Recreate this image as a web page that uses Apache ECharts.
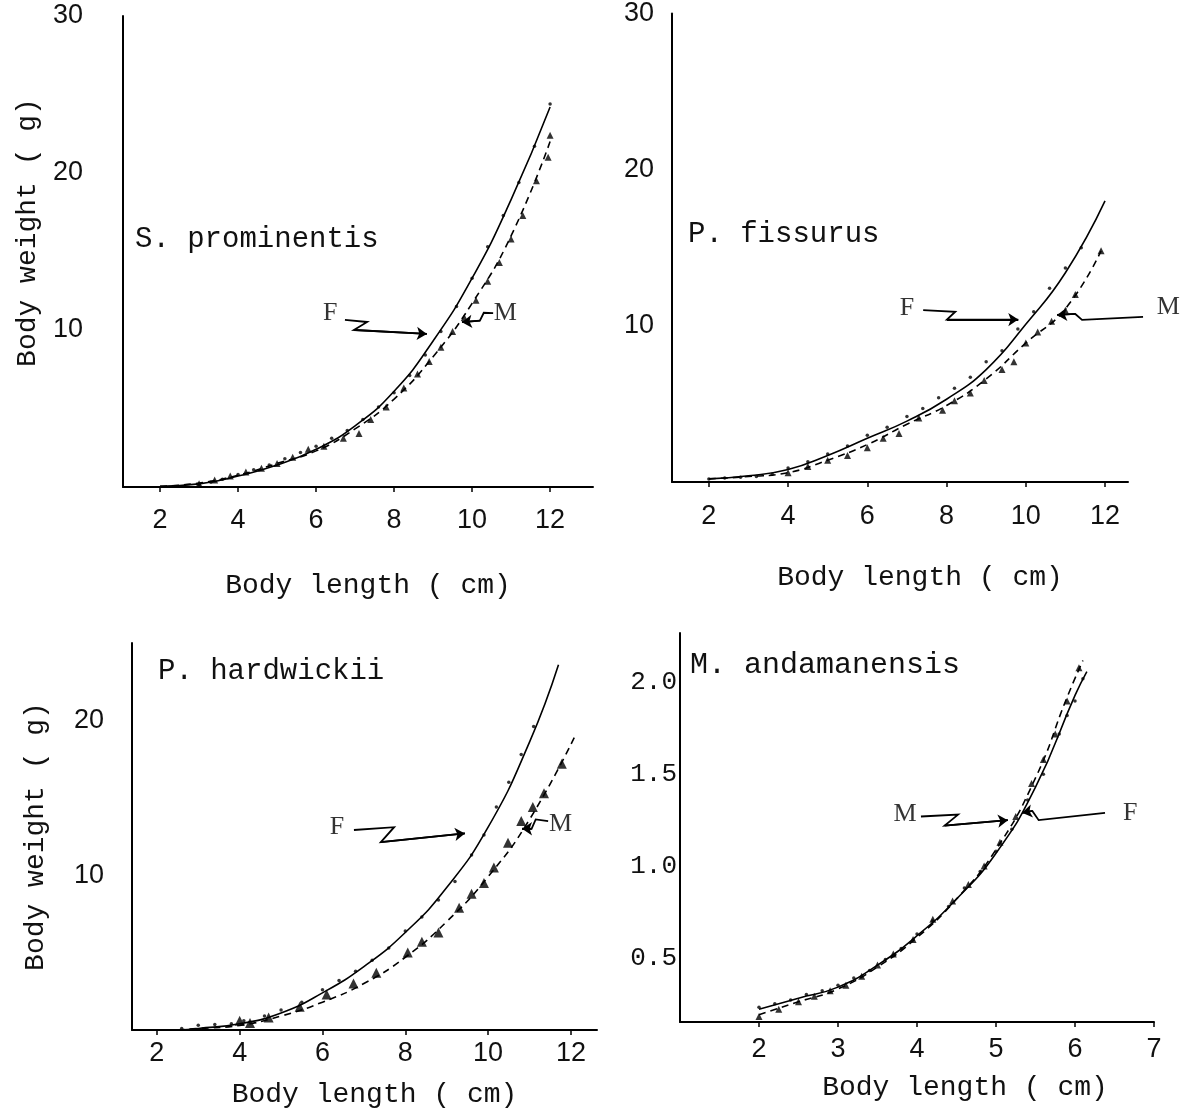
<!DOCTYPE html>
<html><head><meta charset="utf-8">
<script src="https://cdn.jsdelivr.net/npm/echarts@6/dist/echarts.min.js"></script>
<style>html,body{margin:0;padding:0;background:#fff}#c{width:1193px;height:1116px}</style>
</head><body><div id="c"></div>
<script>
// ---------- Panel 1: S. prominentis ----------
const p1FemaleCurveX = [2, 3, 4, 5, 6, 7, 8, 9, 10, 11, 12];
const p1FemaleCurveY = [0.05, 0.2, 0.7, 1.4, 2.4, 3.9, 6.1, 9.3, 13.3, 18.3, 24.2];
const p1MaleCurveX = [2, 3, 4, 5, 6, 7, 8, 9, 10, 11, 12];
const p1MaleCurveY = [0.05, 0.25, 0.75, 1.5, 2.3, 3.7, 5.6, 8.3, 11.7, 16.0, 22.0];
const p1FemalePtsX = [3.0, 3.3, 3.6, 4.0, 4.4, 4.8, 5.2, 5.6, 6.0, 6.4, 6.8, 7.2, 7.6, 8.0, 8.4, 8.8, 9.2, 9.6, 10.0, 10.4, 10.8, 11.2, 11.6, 12.0];
const p1FemalePtsY = [0.15, 0.3, 0.5, 0.8, 1.1, 1.4, 1.8, 2.2, 2.6, 3.1, 3.6, 4.3, 5.1, 6.0, 7.1, 8.4, 9.9, 11.5, 13.3, 15.3, 17.3, 19.4, 21.7, 24.4];
const p1MalePtsX = [3.0, 3.4, 3.8, 4.2, 4.6, 5.0, 5.4, 5.8, 6.2, 6.7, 7.1, 7.4, 7.8, 8.25, 8.6, 8.9, 9.2, 9.5, 9.8, 10.1, 10.4, 10.7, 11.0, 11.3, 11.65, 11.95, 12.0];
const p1MalePtsY = [0.2, 0.45, 0.7, 0.95, 1.2, 1.5, 1.9, 2.4, 2.6, 3.1, 3.4, 4.3, 5.1, 6.3, 7.2, 8.0, 8.9, 9.9, 10.8, 11.9, 13.1, 14.3, 15.8, 17.3, 19.5, 21.0, 22.4];

// ---------- Panel 2: P. fissurus ----------
const p2FemaleCurveX = [2, 3, 4, 5, 6, 7, 8, 9, 10, 11, 12];
const p2FemaleCurveY = [0.2, 0.4, 0.8, 1.7, 2.8, 3.9, 5.3, 7.2, 10.1, 13.4, 18.0];
const p2MaleCurveX = [2, 3, 4, 5, 6, 7, 8, 9, 10, 11, 11.9];
const p2MaleCurveY = [0.2, 0.35, 0.6, 1.4, 2.4, 3.7, 4.9, 6.6, 8.9, 11.1, 14.8];
const p2FemalePtsX = [2.0, 2.4, 2.8, 3.2, 3.6, 4.0, 4.5, 5.0, 5.5, 6.0, 6.5, 7.0, 7.4, 7.8, 8.2, 8.6, 9.0, 9.4, 9.8, 10.2, 10.6, 11.0, 11.4];
const p2FemalePtsY = [0.2, 0.25, 0.3, 0.35, 0.5, 0.9, 1.3, 1.8, 2.3, 3.0, 3.5, 4.2, 4.7, 5.4, 6.0, 6.7, 7.7, 8.4, 9.8, 10.9, 12.4, 13.7, 15.0];
const p2MalePtsX = [4.0, 4.5, 5.0, 5.5, 6.0, 6.4, 6.8, 7.3, 7.9, 8.2, 8.6, 8.95, 9.4, 9.7, 10.0, 10.3, 10.65, 11.0, 11.25, 11.9];
const p2MalePtsY = [0.6, 1.0, 1.4, 1.7, 2.2, 2.8, 3.1, 4.1, 4.6, 5.2, 5.7, 6.5, 7.2, 7.7, 8.9, 9.6, 10.3, 11.0, 12.0, 14.8];

// ---------- Panel 3: P. hardwickii ----------
const p3FemaleCurveX = [2.5, 3, 4, 5, 6, 7, 8, 9, 10, 11, 11.7];
const p3FemaleCurveY = [0, 0.1, 0.4, 1.1, 2.4, 4.1, 6.3, 9.2, 13.1, 18.6, 23.6];
const p3MaleCurveX = [2.5, 3, 4, 5, 6, 7, 8, 9, 10, 11, 12.1];
const p3MaleCurveY = [0, 0.1, 0.3, 0.9, 1.8, 3.0, 4.7, 7.0, 9.9, 13.6, 19.0];
const p3FemalePtsX = [2.6, 3.0, 3.4, 3.8, 4.1, 4.6, 5.0, 5.5, 6.0, 6.4, 6.8, 7.2, 7.6, 8.0, 8.4, 8.8, 9.2, 9.6, 9.9, 10.2, 10.5, 10.8, 11.1];
const p3FemalePtsY = [0.1, 0.3, 0.35, 0.4, 0.6, 0.9, 1.3, 1.8, 2.6, 3.2, 3.8, 4.5, 5.3, 6.4, 7.3, 8.4, 9.6, 11.3, 12.6, 14.4, 16.0, 17.8, 19.6];
const p3MalePtsX = [4.0, 4.25, 4.7, 5.45, 6.1, 6.75, 7.3, 8.06, 8.4, 8.8, 9.3, 9.6, 9.9, 10.14, 10.48, 10.8, 11.08, 11.35, 11.78];
const p3MalePtsY = [0.6, 0.45, 0.8, 1.5, 2.3, 3.0, 3.7, 5.0, 5.7, 6.3, 7.9, 8.8, 9.5, 10.5, 12.1, 13.5, 14.4, 15.3, 17.2];

// ---------- Panel 4: M. andamanensis ----------
const p4FemaleCurveX = [2, 2.5, 3, 3.5, 4, 4.5, 5, 5.5, 6, 6.15];
const p4FemaleCurveY = [0.22, 0.28, 0.34, 0.46, 0.62, 0.82, 1.07, 1.43, 1.93, 2.06];
const p4MaleCurveX = [2, 2.5, 3, 3.5, 4, 4.5, 5, 5.5, 5.9, 6.1];
const p4MaleCurveY = [0.19, 0.26, 0.33, 0.45, 0.61, 0.82, 1.09, 1.48, 1.92, 2.12];
const p4FemalePtsX = [2.0, 2.2, 2.4, 2.6, 2.8, 3.0, 3.2, 3.4, 3.6, 3.8, 4.0, 4.2, 4.4, 4.6, 4.8, 5.0, 5.2, 5.4, 5.6, 5.8, 5.9, 6.0, 6.1];
const p4FemalePtsY = [0.23, 0.25, 0.27, 0.3, 0.32, 0.35, 0.39, 0.43, 0.49, 0.55, 0.63, 0.7, 0.78, 0.88, 0.97, 1.08, 1.2, 1.36, 1.5, 1.72, 1.82, 1.9, 2.02];
const p4MalePtsX = [2.0, 2.25, 2.5, 2.7, 2.9, 3.1, 3.3, 3.5, 3.7, 3.95, 4.2, 4.45, 4.65, 4.85, 5.05, 5.25, 5.45, 5.6, 5.75, 5.9, 6.05];
const p4MalePtsY = [0.18, 0.22, 0.26, 0.29, 0.32, 0.35, 0.4, 0.46, 0.52, 0.6, 0.71, 0.81, 0.9, 1.0, 1.13, 1.27, 1.45, 1.58, 1.72, 1.9, 2.08];

// ---------- tick labels ----------
const xTicksLong = [2, 4, 6, 8, 10, 12];
const xTicksShort = [2, 3, 4, 5, 6, 7];
const yTicks30 = [10, 20, 30];
const yTicks25 = [10, 20];
const yTicks2 = [0.5, 1.0, 1.5, 2.0];

// ---------- texts ----------
const speciesNames = ['S. prominentis', 'P. fissurus', 'P. hardwickii', 'M. andamanensis'];
const xAxisTitle = 'Body length ( cm)';
const yAxisTitle = 'Body weight ( g)';

// ---------- annotation arrows (data coords) ----------
const annotations = [
  [ {label:'F', at:[6.36, 11.1], path:[[6.74,10.64],[7.31,10.51],[6.97,10.0],[8.84,9.75]]},
    {label:'M', at:[10.85, 11.1], path:[[10.54,11.08],[10.3,11.1],[10.2,10.6],[9.74,10.5]]} ],
  [ {label:'F', at:[7.0, 11.15], path:[[7.41,11.0],[8.22,10.9],[8.01,10.4],[9.81,10.4]]},
    {label:'M', at:[13.6, 11.2], path:[[12.96,10.57],[11.42,10.38],[11.25,10.76],[10.79,10.7]]} ],
  [ {label:'F', at:[6.35, 13.1], path:[[6.76,12.92],[7.73,13.1],[7.41,12.14],[9.44,12.7]]},
    {label:'M', at:[11.75, 13.3], path:[[11.45,13.5],[11.15,13.6],[11.05,13.0],[10.82,13.0]]} ],
  [ {label:'M', at:[3.85, 1.28], path:[[4.05,1.27],[4.52,1.28],[4.35,1.22],[5.15,1.25]]},
    {label:'F', at:[6.7, 1.29], path:[[6.38,1.29],[5.54,1.25],[5.46,1.30],[5.33,1.29]]} ]
];

const panels = [
  {grid:{left:123, top:16, width:470, height:471}, xr:[1.05,13.1], yr:[0,30], xt:xTicksLong, yt:yTicks30,
   fc:[p1FemaleCurveX,p1FemaleCurveY], mc:[p1MaleCurveX,p1MaleCurveY], fp:[p1FemalePtsX,p1FemalePtsY], mp:[p1MalePtsX,p1MalePtsY],
   ylm:40, xlm:20, yname:true, ynameGap:81, xnameGap:85, xpad:20, tri:7, yfmt:v=>String(v), yfont:'Liberation Sans', ysize:27},
  {grid:{left:672, top:8, width:456, height:474}, xr:[1.07,12.58], yr:[0,30], xt:xTicksLong, yt:yTicks30,
   fc:[p2FemaleCurveX,p2FemaleCurveY], mc:[p2MaleCurveX,p2MaleCurveY], fp:[p2FemalePtsX,p2FemalePtsY], mp:[p2MalePtsX,p2MalePtsY],
   ylm:18, xlm:21, yname:false, xnameGap:82, xpad:40, tri:7, yfmt:v=>String(v), yfont:'Liberation Sans', ysize:27},
  {grid:{left:132, top:643, width:465, height:387}, xr:[1.4,12.63], yr:[0,25], xt:xTicksLong, yt:yTicks25,
   fc:[p3FemaleCurveX,p3FemaleCurveY], mc:[p3MaleCurveX,p3MaleCurveY], fp:[p3FemalePtsX,p3FemalePtsY], mp:[p3MalePtsX,p3MalePtsY],
   ylm:28, xlm:10, yname:true, ynameGap:82, xnameGap:51, xpad:20, tri:10, yfmt:v=>String(v), yfont:'Liberation Sans', ysize:27},
  {grid:{left:680, top:633, width:474, height:389}, xr:[1,7], yr:[0.15,2.27], xt:xTicksShort, yt:yTicks2,
   fc:[p4FemaleCurveX,p4FemaleCurveY], mc:[p4MaleCurveX,p4MaleCurveY], fp:[p4FemalePtsX,p4FemalePtsY], mp:[p4MalePtsX,p4MalePtsY],
   ylm:3, xlm:14, yname:false, xnameGap:52, xpad:96, tri:7, yfmt:v=>v.toFixed(1), yfont:'Liberation Mono', ysize:26}
];

const zip = (xs, ys) => xs.map((x, i) => [x, ys[i]]);
const MONO = 'Liberation Mono';
const grids = [], xAxes = [], yAxes = [], series = [];

panels.forEach((p, i) => {
  grids.push(Object.assign({}, p.grid));
  xAxes.push({
    type:'value', gridIndex:i, min:p.xr[0], max:p.xr[1],
    axisLine:{show:true, onZero:false, lineStyle:{color:'#000', width:2}},
    axisTick:{show:true, customValues:p.xt, length:5, lineStyle:{color:'#000', width:1.5}},
    axisLabel:{customValues:p.xt, margin:p.xlm, color:'#111', fontFamily:'Liberation Sans', fontSize:27},
    splitLine:{show:false},
    name:xAxisTitle, nameLocation:'middle', nameGap:p.xnameGap, nameMoveOverlap:false,
    nameTextStyle:{fontFamily:MONO, fontSize:28, color:'#111', padding:[0,0,0,p.xpad]}
  });
  yAxes.push({
    type:'value', gridIndex:i, min:p.yr[0], max:p.yr[1],
    axisLine:{show:true, onZero:false, lineStyle:{color:'#000', width:2}},
    axisTick:{show:false},
    axisLabel:{customValues:p.yt, margin:p.ylm, color:'#111', fontFamily:p.yfont, fontSize:p.ysize, formatter:p.yfmt},
    splitLine:{show:false},
    name:p.yname ? yAxisTitle : '', nameLocation:'middle', nameGap:p.ynameGap || 0, nameRotate:90, nameMoveOverlap:false,
    nameTextStyle:{fontFamily:MONO, fontSize:28, color:'#111', padding:[0,0,0,i===0?38:0]}
  });
  // F fitted curve (solid)
  series.push({type:'line', xAxisIndex:i, yAxisIndex:i, data:zip(p.fc[0], p.fc[1]), smooth:0.5,
    showSymbol:false, lineStyle:{color:'#000', width:1.6}, silent:true});
  // M fitted curve (dashed)
  series.push({type:'line', xAxisIndex:i, yAxisIndex:i, data:zip(p.mc[0], p.mc[1]), smooth:0.5,
    showSymbol:false, lineStyle:{color:'#000', width:1.6, type:[7,5]}, silent:true});
  // F observations (dots)
  series.push({type:'scatter', xAxisIndex:i, yAxisIndex:i, data:zip(p.fp[0], p.fp[1]), symbol:'circle',
    symbolSize:3.5, itemStyle:{color:'#000'}, silent:true});
  // M observations (triangles)
  series.push({type:'scatter', xAxisIndex:i, yAxisIndex:i, data:zip(p.mp[0], p.mp[1]), symbol:'triangle',
    symbolSize:p.tri, itemStyle:{color:'#000'}, silent:true});
  // annotations: squiggle, arrow head segment, letter
  annotations[i].forEach(a => {
    series.push({type:'lines', coordinateSystem:'cartesian2d', xAxisIndex:i, yAxisIndex:i, polyline:true,
      clip:false, silent:true, symbol:'none',
      lineStyle:{color:'#000', width:1.8, opacity:1, curveness:0}, data:[{coords:a.path}]});
    const n = a.path.length;
    series.push({type:'lines', coordinateSystem:'cartesian2d', xAxisIndex:i, yAxisIndex:i, polyline:false,
      clip:false, silent:true, symbol:['none','arrow'], symbolSize:[4, 10],
      lineStyle:{color:'#000', width:1.8, opacity:1, curveness:0}, data:[{coords:[a.path[n-2], a.path[n-1]]}]});
    series.push({type:'scatter', xAxisIndex:i, yAxisIndex:i, clip:false, silent:true, symbolSize:1,
      itemStyle:{color:'rgba(0,0,0,0)'},
      label:{show:true, position:'inside', formatter:'{b}', fontFamily:'Liberation Serif', fontSize:26, color:'#000'},
      data:[{name:a.label, value:a.at}]});
  });
});

const speciesPos = [[135, 225], [688, 220], [158, 657], [690, 650]];
const speciesSize = [29, 29, 29, 30];
const graphics = speciesNames.map((s, i) => ({
  type:'text', left:speciesPos[i][0], top:speciesPos[i][1],
  style:{text:s, fontFamily:MONO, fontSize:speciesSize[i], fill:'#111'}
}));

const chart = echarts.init(document.getElementById('c'), null, {renderer:'canvas'});
chart.setOption({
  backgroundColor:'#fff', animation:false,
  grid:grids, xAxis:xAxes, yAxis:yAxes, series:series, graphic:graphics
});
</script>
</body></html>
